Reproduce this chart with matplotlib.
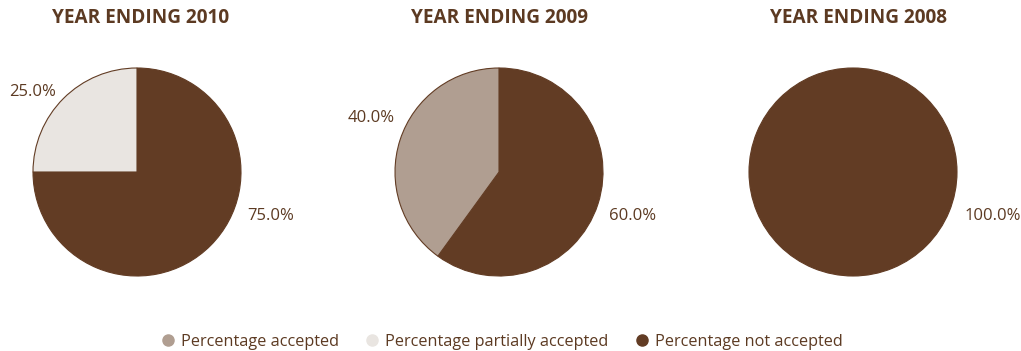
import matplotlib
matplotlib.use('Agg')
import matplotlib.pyplot as plt
from matplotlib.lines import Line2D

plt.rcParams['font.family'] = ['Open Sans', 'DejaVu Sans']

years = ['YEAR ENDING 2010', 'YEAR ENDING 2009', 'YEAR ENDING 2008']
categories = ['Percentage accepted', 'Percentage partially accepted', 'Percentage not accepted']
accepted = [0.0, 40.0, 0.0]
partial = [25.0, 0.0, 0.0]
not_accepted = [75.0, 60.0, 100.0]

colors = ['#b09e91', '#e9e5e1', '#623c24']
text_col = '#5c3a22'

fig = plt.figure(figsize=(10.21, 3.51), dpi=100)
W, H = 1021, 351
centers = [(137, 172), (499, 172), (853, 172)]
r = 104

# label spots (in radius units) for [accepted, partial, not accepted]
label_pos = [
    [None, (-0.78, 0.77, 'right'), (1.06, -0.42, 'left')],
    [(-1.0, 0.52, 'right'), None, (1.06, -0.42, 'left')],
    [None, None, (1.07, -0.42, 'left')],
]

for i, (cx, cy) in enumerate(centers):
    ax = fig.add_axes([(cx - r) / W, (H - cy - r) / H, 2 * r / W, 2 * r / H])
    vals = [not_accepted[i], partial[i], accepted[i]]
    cols = [colors[2], colors[1], colors[0]]
    keep = [k for k, v in enumerate(vals) if v > 0]
    ax.pie([vals[k] for k in keep], colors=[cols[k] for k in keep],
           startangle=90, counterclock=False, radius=1,
           wedgeprops=dict(edgecolor=colors[2], linewidth=0.8))
    ax.set_xlim(-1, 1)
    ax.set_ylim(-1, 1)
    ax.set_aspect('equal')
    ax.axis('off')
    series = [accepted[i], partial[i], not_accepted[i]]
    for j, v in enumerate(series):
        p = label_pos[i][j]
        if p is None or v <= 0:
            continue
        ax.text(p[0], p[1], '%.1f%%' % v, ha=p[2], va='center',
                fontsize=12, color=text_col, clip_on=False)
    fig.text([141, 499, 858][i] / W, 1 - 18 / H, years[i], ha='center', va='center',
             fontsize=13.7, fontweight='bold', color=text_col)

handles = [Line2D([], [], marker='o', linestyle='', markersize=8,
                  markerfacecolor=c, markeredgecolor=c) for c in colors]
fig.legend(handles, categories, loc='center', bbox_to_anchor=(0.49, 1 - 342 / H),
           ncol=3, frameon=False, fontsize=11.7, labelcolor=text_col,
           handletextpad=0.2, columnspacing=1.45, handlelength=1.2)

fig.savefig('out.png', dpi=100, facecolor='white')
